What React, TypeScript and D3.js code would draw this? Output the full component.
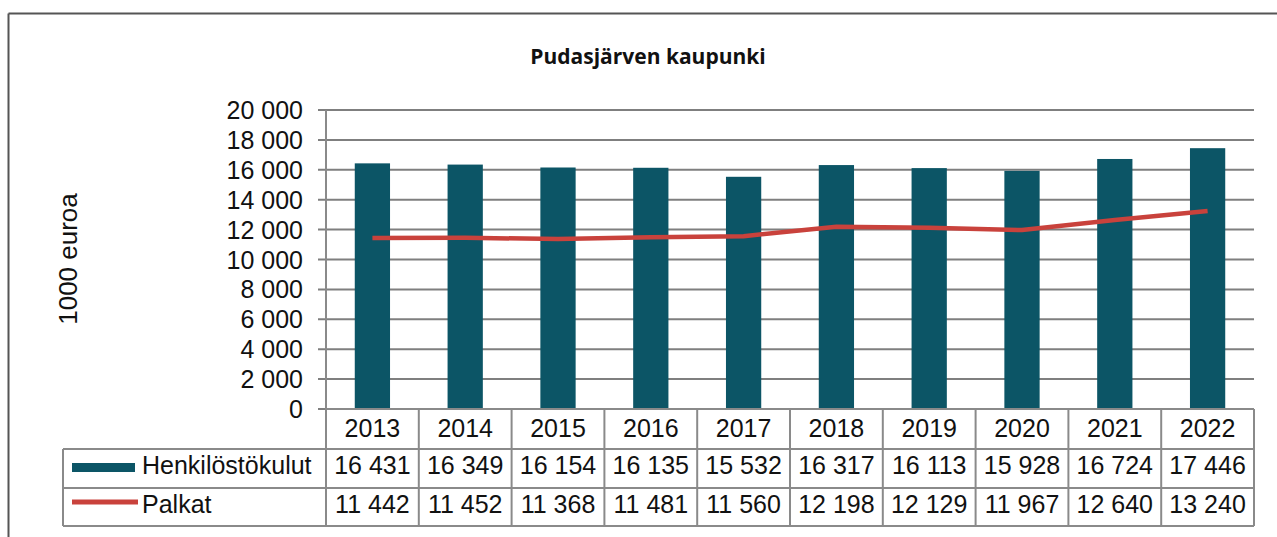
import React from "react";
import * as d3 from "d3";

const years = ["2013", "2014", "2015", "2016", "2017", "2018", "2019", "2020", "2021", "2022"];
const henkilostokulut = [16431, 16349, 16154, 16135, 15532, 16317, 16113, 15928, 16724, 17446];
const palkat = [11442, 11452, 11368, 11481, 11560, 12198, 12129, 11967, 12640, 13240];
const yTicks = [0, 2000, 4000, 6000, 8000, 10000, 12000, 14000, 16000, 18000, 20000];
const seriesNames = ["Henkilöstökulut", "Palkat"];
const title = "Pudasjärven kaupunki";
const yLabel = "1000 euroa";

const W = 1277;
const H = 537;
const plotL = 326;
const plotR = 1254;
const plotT = 110;
const plotB = 409;
const rowH = [40, 39, 38];
const legendL = 63;

const teal = "#0c5566";
const red = "#c9423c";
const grid = "#7f7f7f";
const tableLine = "#8a8a8a";
const font = "'Liberation Sans', Arial, sans-serif";
const fs = 25;

const fmt = (v: number) => {
  const s = String(Math.round(v));
  return s.replace(/\B(?=(\d{3})+(?!\d))/g, " ");
};

export default function App() {
  const x = d3.scaleBand<string>().domain(years).range([plotL, plotR]).paddingInner(0).paddingOuter(0);
  const y = d3.scaleLinear().domain([0, 20000]).range([plotB, plotT]);
  const bw = x.bandwidth() * 0.38;
  const cx = (yr: string) => (x(yr) as number) + x.bandwidth() / 2;
  const lineGen = d3
    .line<number>()
    .x((_, i) => cx(years[i]))
    .y((d) => y(d));

  const r0 = plotB;
  const r1 = r0 + rowH[0];
  const r2 = r1 + rowH[1];
  const r3 = r2 + rowH[2];

  return (
    <svg
      width={W}
      height={H}
      style={{ position: "absolute", left: 0, top: 0, background: "#fff" }}
    >
      {/* outer frame */}
      <line x1={8.5} x2={W} y1={13.5} y2={13.5} stroke="#555" strokeWidth={2} />
      <line x1={8.5} x2={8.5} y1={13.5} y2={H} stroke="#555" strokeWidth={2} />

      <text
        x={648}
        y={64}
        textAnchor="middle"
        fontFamily="'Open Sans', 'Noto Sans', sans-serif"
        fontWeight="bold"
        fontSize={21}
        fill="#111"
      >
        {title}
      </text>

      <text
        transform={`translate(77, 259) rotate(-90)`}
        textAnchor="middle"
        fontFamily={font}
        fontSize={26}
        fill="#111"
      >
        {yLabel}
      </text>

      {/* gridlines + ticks */}
      {yTicks.map((t) => (
        <g key={t}>
          <line
            x1={plotL - 8}
            x2={t === 0 ? plotL : plotR}
            y1={y(t)}
            y2={y(t)}
            stroke={grid}
            strokeWidth={2}
          />
          <text
            x={303}
            y={y(t)}
            dy="0.36em"
            textAnchor="end"
            fontFamily={font}
            fontSize={fs}
            fill="#111"
          >
            {fmt(t)}
          </text>
        </g>
      ))}

      {/* bars */}
      {henkilostokulut.map((v, i) => (
        <rect
          key={years[i]}
          x={cx(years[i]) - bw / 2}
          y={y(v)}
          width={bw}
          height={y(0) - y(v)}
          fill={teal}
        />
      ))}

      {/* line */}
      <path d={lineGen(palkat) || ""} fill="none" stroke={red} strokeWidth={4.5} strokeLinejoin="round" />

      {/* axis line */}
      <line x1={plotL} x2={plotL} y1={plotT} y2={r3} stroke={tableLine} strokeWidth={2} />

      {/* table lines */}
      <line x1={plotL} x2={plotR} y1={r0} y2={r0} stroke={tableLine} strokeWidth={2} />
      {[r1, r2, r3].map((ry) => (
        <line key={ry} x1={legendL} x2={plotR} y1={ry} y2={ry} stroke={tableLine} strokeWidth={2} />
      ))}
      <line x1={legendL} x2={legendL} y1={r1} y2={r3} stroke={tableLine} strokeWidth={2} />
      {years.map((yr) => (
        <line
          key={yr}
          x1={(x(yr) as number) + x.bandwidth()}
          x2={(x(yr) as number) + x.bandwidth()}
          y1={r0}
          y2={r3}
          stroke={tableLine}
          strokeWidth={2}
        />
      ))}

      {/* table text */}
      {years.map((yr, i) => (
        <g key={yr} fontFamily={font} fontSize={fs} fill="#111" textAnchor="middle">
          <text x={cx(yr)} y={437}>{yr}</text>
          <text x={cx(yr)} y={474}>{fmt(henkilostokulut[i])}</text>
          <text x={cx(yr)} y={513}>{fmt(palkat[i])}</text>
        </g>
      ))}

      {/* legend */}
      <rect x={72} y={463} width={63} height={9} fill={teal} />
      <text x={142} y={474} fontFamily={font} fontSize={fs} fill="#111">
        {seriesNames[0]}
      </text>
      <line x1={72} x2={138} y1={502} y2={502} stroke={red} strokeWidth={5} />
      <text x={142} y={513} fontFamily={font} fontSize={fs} fill="#111">
        {seriesNames[1]}
      </text>
    </svg>
  );
}
